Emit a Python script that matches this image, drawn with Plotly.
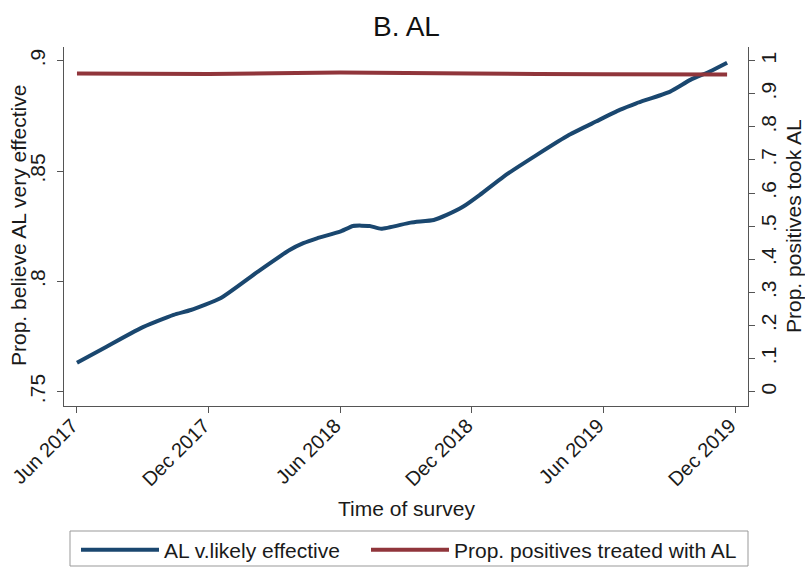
import plotly.graph_objects as go

# ---- data ----
al_dates = ["2017-06-01", "2017-07-12", "2017-08-28", "2017-10-13", "2017-11-06",
            "2017-12-17", "2018-02-07", "2018-03-23", "2018-04-11", "2018-04-30",
            "2018-06-01", "2018-06-19", "2018-07-12", "2018-07-28", "2018-09-07",
            "2018-10-09", "2018-10-27", "2018-11-19", "2018-12-12", "2019-01-14",
            "2019-03-01", "2019-04-15", "2019-05-22", "2019-06-24", "2019-07-17",
            "2019-09-02", "2019-09-30", "2019-10-27", "2019-11-20"]
al_effective = [0.7631, 0.7704, 0.7787, 0.7848, 0.7870,
                0.7923, 0.8044, 0.8142, 0.8173, 0.8195,
                0.8225, 0.8251, 0.8251, 0.8238, 0.8266,
                0.8278, 0.8301, 0.8339, 0.8392, 0.8475,
                0.8573, 0.8664, 0.8724, 0.8777, 0.8807,
                0.8860, 0.8913, 0.8951, 0.8991]

treated_dates = ["2017-06-01", "2017-12-01", "2018-06-01", "2018-12-01", "2019-06-01", "2019-11-20"]
treated_prop = [0.961, 0.960, 0.964, 0.961, 0.959, 0.958]

x_tickvals = ["2017-06-01", "2017-12-01", "2018-06-01", "2018-12-01", "2019-06-01", "2019-12-01"]
x_ticktext = ["Jun 2017", "Dec 2017", "Jun 2018", "Dec 2018", "Jun 2019", "Dec 2019"]
y1_tickvals = [0.75, 0.80, 0.85, 0.90]
y1_ticktext = [".75", ".8", ".85", ".9"]
y2_tickvals = [0, 0.1, 0.2, 0.3, 0.4, 0.5, 0.6, 0.7, 0.8, 0.9, 1.0]
y2_ticktext = ["0", ".1", ".2", ".3", ".4", ".5", ".6", ".7", ".8", ".9", "1"]

NAVY = "#1a476f"
MAROON = "#90353b"
FONT = "Arial, Liberation Sans, sans-serif"
AXC = "#555555"
TXT = "#1a1a1a"
FS = 21

fig = go.Figure()
fig.add_trace(go.Scatter(x=al_dates, y=al_effective, mode="lines",
                         name="AL v.likely effective",
                         line=dict(color=NAVY, width=4, shape="spline", smoothing=0.5),
                         yaxis="y", legend="legend"))
fig.add_trace(go.Scatter(x=treated_dates, y=treated_prop, mode="lines",
                         name="Prop. positives treated with AL",
                         line=dict(color=MAROON, width=4, shape="spline", smoothing=0.5),
                         yaxis="y2", legend="legend2"))

W, H = 805, 569
L, R, T, B = 64, 748, 47, 406
pw, ph = R - L, B - T

def px2x(p):
    return (p - L) / pw

def px2y(p):
    return (B - p) / ph

fig.update_layout(
    width=W, height=H,
    margin=dict(l=L, r=W - R, t=T, b=H - B, autoexpand=False),
    paper_bgcolor="white", plot_bgcolor="white",
    font=dict(family=FONT, size=FS, color=TXT),
    showlegend=True,
    xaxis=dict(type="date", range=["2017-05-14", "2019-12-19"],
               tickvals=x_tickvals, ticktext=x_ticktext, tickangle=-45,
               ticks="outside", ticklen=6, tickcolor=AXC,
               ticklabelstandoff=-7, ticklabelshift=-5,
               showline=True, linecolor=AXC, linewidth=1, mirror=False,
               showgrid=False, zeroline=False, tickfont=dict(size=20)),
    yaxis=dict(range=[0.7435, 0.9062], tickvals=y1_tickvals, ticktext=y1_ticktext,
               tickangle=-90, ticks="outside", ticklen=6, tickcolor=AXC,
               ticklabelstandoff=4,
               showline=True, linecolor=AXC, linewidth=1, showgrid=False,
               zeroline=False, tickfont=dict(size=FS)),
    yaxis2=dict(range=[-0.0433, 1.0413], overlaying="y", side="right",
                tickvals=y2_tickvals, ticktext=y2_ticktext,
                tickangle=-90, ticks="outside", ticklen=6, tickcolor=AXC,
                ticklabelstandoff=-4,
                showline=True, linecolor=AXC, linewidth=1, showgrid=False,
                zeroline=False, tickfont=dict(size=FS)),
    legend=dict(orientation="h", x=px2x(76), xanchor="left", y=px2y(550), yanchor="middle",
                bgcolor="rgba(0,0,0,0)", borderwidth=0, itemwidth=78,
                font=dict(size=FS, color=TXT)),
    legend2=dict(orientation="h", x=px2x(366), xanchor="left", y=px2y(550), yanchor="middle",
                 bgcolor="rgba(0,0,0,0)", borderwidth=0, itemwidth=78,
                 font=dict(size=FS, color=TXT)),
    shapes=[dict(type="rect", xref="paper", yref="paper",
                 x0=px2x(70), x1=px2x(748), y0=px2y(531), y1=px2y(566),
                 line=dict(color="#999999", width=1), fillcolor="rgba(0,0,0,0)")],
    annotations=[
        dict(text="B. AL", xref="paper", yref="paper", x=px2x(406), y=px2y(27),
             showarrow=False, font=dict(size=28, color="#111111"),
             xanchor="center", yanchor="middle"),
        dict(text="Prop. believe AL very effective", xref="paper", yref="paper",
             x=px2x(18), y=px2y(226), textangle=-90, showarrow=False,
             font=dict(size=FS), xanchor="center", yanchor="middle"),
        dict(text="Prop. positives took AL", xref="paper", yref="paper",
             x=px2x(793), y=px2y(226), textangle=-90, showarrow=False,
             font=dict(size=FS), xanchor="center", yanchor="middle"),
        dict(text="Time of survey", xref="paper", yref="paper",
             x=px2x(406), y=px2y(508), showarrow=False,
             font=dict(size=FS), xanchor="center", yanchor="middle"),
    ],
)

fig.write_html("out.html", config={"displayModeBar": False},
               post_script="document.body.style.margin='0px';")
